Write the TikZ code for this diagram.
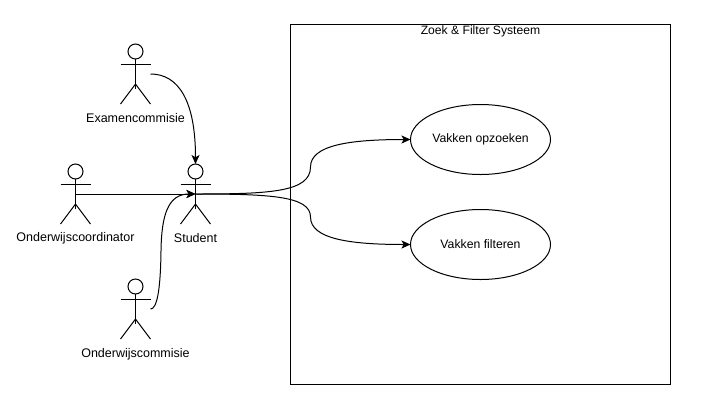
\documentclass[tikz,border=0pt]{standalone}
\usepackage{fontspec}
\setmainfont{Liberation Sans}
\usetikzlibrary{arrows.meta,shapes.geometric}
\tikzset{
  ln/.style={line width=1bp,draw=black},
  actorbox/.style={inner sep=0pt,outer sep=0pt,minimum width=30bp,minimum height=60bp,draw=none},
  actorlabel/.style={inner sep=0pt,font=\fontsize{12.5bp}{14bp}\selectfont},
  titlelabel/.style={inner sep=0pt,font=\fontsize{12.15bp}{14bp}\selectfont},
  usecase/.style={ellipse,ln,inner sep=0pt,outer sep=0pt,minimum width=140bp,minimum height=70bp,font=\fontsize{12.25bp}{14bp}\selectfont},
  conn/.style={ln,-{Stealth[length=9bp,width=8bp,inset=2.2bp]}},
}
\newcommand{\stick}[5]{%
  \node[actorbox] (#1) at (#2,#3) {};
  \draw[ln] (#2,#3-22.5) circle (7.5bp);
  \draw[ln] (#2,#3-15) -- (#2,#3+15);
  \draw[ln] (#2-15,#3-10) -- (#2+15,#3-10);
  \draw[ln] (#2-15,#3+30) -- (#2,#3+10) -- (#2+15,#3+30);
  \node[actorlabel] (#1l) at (#2,#3+#5) {#4};
}
\begin{document}
\begin{tikzpicture}[x=1bp,y=-1bp]
\useasboundingbox (0,0) rectangle (718,412);
\node[ln,rectangle,inner sep=0pt,outer sep=0pt,minimum width=380bp,minimum height=360bp] (sys) at (480.5,204.5) {};
\node[titlelabel] (title) at (480.5,31.7) {Zoek \& Filter Systeem};
\stick{exam}{135.5}{74}{Examencommisie}{44}
\stick{coord}{75.5}{194}{Onderwijscoordinator}{44}
\stick{student}{195.5}{194}{Student}{44}
\stick{comm}{135.5}{309}{Onderwijscommisie}{44.8}
\node[usecase] (zoek) at (480.5,139.5) {\raisebox{-0.8bp}{Vakken opzoeken}};
\node[usecase] (filt) at (480.5,244.5) {\raisebox{-0.8bp}{Vakken filteren}};
\draw[conn] (exam.east) .. controls (178,74) and (195.5,100) .. (student.north);
\draw[conn] (coord.center) -- (student.center);
\draw[conn] (comm.east) .. controls (157,309) and (160.5,290) .. (161,251) .. controls (161.5,215) and (168,194) .. (student.center);
\draw[conn] (student.center) .. controls (270,194) and (310.5,192) .. (310.5,167) .. controls (310.5,145) and (350,139.5) .. (zoek.west);
\draw[conn] (student.center) .. controls (270,194) and (310.5,196) .. (310.5,217) .. controls (310.5,239) and (350,244.5) .. (filt.west);
\end{tikzpicture}
\end{document}
